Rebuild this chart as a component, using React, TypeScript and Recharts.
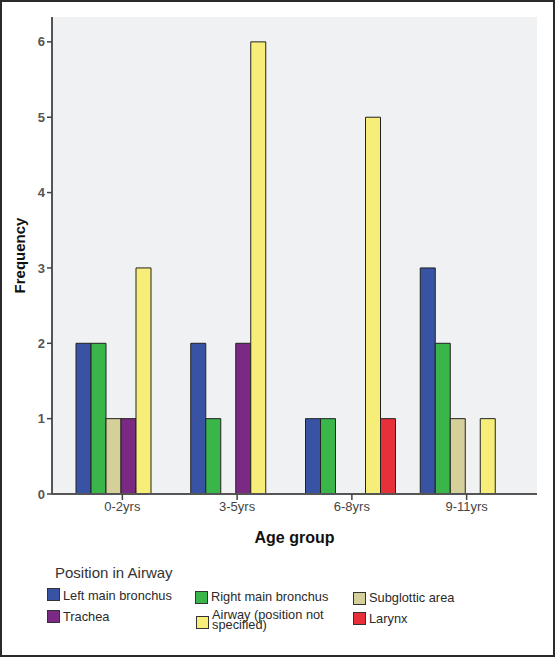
import React from "react";
import { BarChart, Bar, XAxis, YAxis, CartesianGrid } from "recharts";

const categories = ["0-2yrs", "3-5yrs", "6-8yrs", "9-11yrs"];
const leftMainBronchus = [2, 2, 1, 3];
const rightMainBronchus = [2, 1, 1, 2];
const subglotticArea = [1, 0, 0, 1];
const trachea = [1, 2, 0, 0];
const airwayUnspecified = [3, 6, 5, 1];
const larynx = [0, 0, 1, 0];
const yTicks = [0, 1, 2, 3, 4, 5, 6];

const SERIES = [
  { key: "left", name: "Left main bronchus", color: "#3953A4", values: leftMainBronchus },
  { key: "right", name: "Right main bronchus", color: "#39B54A", values: rightMainBronchus },
  { key: "subglottic", name: "Subglottic area", color: "#D5CF9A", values: subglotticArea },
  { key: "trachea", name: "Trachea", color: "#7B2A83", values: trachea },
  { key: "airway", name: "Airway (position not specified)", color: "#F6EE78", values: airwayUnspecified },
  { key: "larynx", name: "Larynx", color: "#E8303A", values: larynx },
];

const data = categories.map((cat, i) => {
  const row: Record<string, string | number> = { group: cat };
  SERIES.forEach((s) => {
    row[s.key] = s.values[i];
  });
  return row;
});

const FONT = "'Liberation Sans', Arial, sans-serif";

// legend slots, in the order of the picture (3 columns x 2 rows)
const legendLayout = [
  { key: "left", x: 47, y: 588, dy: 2 },
  { key: "right", x: 195, y: 591, dy: 0 },
  { key: "subglottic", x: 353, y: 592, dy: 0 },
  { key: "trachea", x: 47, y: 610, dy: 1 },
  { key: "airway", x: 196, y: 616, dy: -6 },
  { key: "larynx", x: 353, y: 612, dy: 1 },
];

const AirwayLegend = () => (
  <div style={{ position: "absolute", left: 0, top: 0, fontFamily: FONT }}>
    <div
      style={{
        position: "absolute",
        left: 55,
        top: 564,
        fontSize: 15,
        color: "#333",
        whiteSpace: "nowrap",
      }}
    >
      Position in Airway
    </div>
    {legendLayout.map((slot) => {
      const s = SERIES.find((x) => x.key === slot.key)!;
      const isAirway = slot.key === "airway";
      return (
        <div key={slot.key} style={{ position: "absolute", left: slot.x, top: slot.y }}>
          <div
            style={{
              position: "absolute",
              left: 0,
              top: 0,
              width: 11,
              height: 11,
              background: s.color,
              border: "1px solid #333",
            }}
          />
          <div
            style={{
              position: "absolute",
              left: 16,
              top: slot.dy,
              fontSize: 12.8,
              lineHeight: isAirway ? "10px" : "12px",
              color: "#2a2a2a",
              width: isAirway ? 122 : 160,
              whiteSpace: isAirway ? "normal" : "nowrap",
            }}
          >
            {s.name}
          </div>
        </div>
      );
    })}
  </div>
);

const App = () => {
  return (
    <div
      style={{
        position: "absolute",
        left: 0,
        top: 0,
        width: 555,
        height: 657,
        boxSizing: "border-box",
        border: "2px solid #2a2a2a",
        background: "#fff",
      }}
    >
      <div style={{ position: "absolute", left: -2, top: -2 }}>
        <BarChart
          width={555}
          height={657}
          data={data}
          margin={{ top: 17, right: 18, left: 22, bottom: 133 }}
          barGap={0}
          barCategoryGap={11}
        >
          <CartesianGrid horizontal={false} vertical={false} fill="#F0F1F3" />
          <XAxis
            dataKey="group"
            height={30}
            padding={{ left: 13, right: 13 }}
            axisLine={{ stroke: "#555", strokeWidth: 2 }}
            tickLine={{ stroke: "#444", strokeWidth: 1.5 }}
            tickSize={6}
            tick={{ fill: "#444", fontSize: 13, fontFamily: FONT }}
            label={{
              content: (props: any) => {
                const vb = props.viewBox;
                return (
                  <text
                    x={vb.x + vb.width / 2}
                    y={vb.y + 49}
                    textAnchor="middle"
                    fontFamily={FONT}
                    fontSize={16}
                    fontWeight="bold"
                    fill="#111"
                  >
                    Age group
                  </text>
                );
              },
            }}
          />
          <XAxis
            xAxisId="top"
            dataKey="group"
            orientation="top"
            height={0}
            tick={false}
            tickLine={false}
            axisLine={{ stroke: "#888", strokeWidth: 2 }}
          />
          <YAxis
            width={30}
            domain={[0, 6.33]}
            ticks={yTicks}
            allowDataOverflow
            axisLine={{ stroke: "#555", strokeWidth: 2 }}
            tickLine={{ stroke: "#444", strokeWidth: 1.5 }}
            tickSize={5}
            tick={{ fill: "#555", fontSize: 13, fontWeight: "bold", fontFamily: FONT }}
            label={{
              content: (props: any) => {
                const vb = props.viewBox;
                const cx = 19;
                const cy = vb.y + vb.height / 2;
                return (
                  <text
                    x={cx}
                    y={cy}
                    transform={`rotate(-90 ${cx} ${cy})`}
                    textAnchor="middle"
                    dominantBaseline="central"
                    fontFamily={FONT}
                    fontSize={15}
                    fontWeight="bold"
                    fill="#111"
                  >
                    Frequency
                  </text>
                );
              },
            }}
          />
          <YAxis
            yAxisId="right"
            orientation="right"
            width={0}
            domain={[0, 6.33]}
            tick={false}
            tickLine={false}
            axisLine={{ stroke: "#888", strokeWidth: 2 }}
          />
          {SERIES.map((s) => (
            <Bar
              key={s.key}
              dataKey={s.key}
              name={s.name}
              fill={s.color}
              stroke="#222"
              strokeWidth={1}
              isAnimationActive={false}
            />
          ))}
        </BarChart>
      </div>
      <div style={{ position: "absolute", left: -2, top: -2 }}>
        <AirwayLegend />
      </div>
    </div>
  );
};

export default App;
